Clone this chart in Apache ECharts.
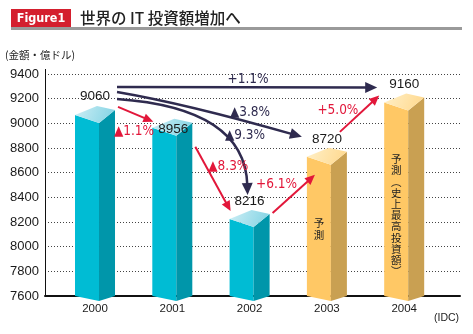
<!DOCTYPE html>
<html><head><meta charset="utf-8">
<script src="https://cdn.jsdelivr.net/npm/echarts@6/dist/echarts.min.js"></script>
<style>html,body{margin:0;padding:0;background:#fff}#c{width:473px;height:334px}</style>
</head><body><div id="c"></div>
<script>
// ---- data ----
const years = ['2000', '2001', '2002', '2003', '2004'];
const values = [9060, 8956, 8216, 8720, 9160];
const forecast = [false, false, false, true, true];
const barNotes = ['', '', '', '予測', '予測︵史上最高投資額︶'];
const yMin = 7600, yMax = 9400, yStep = 200;
const changeFrom = [0, 0, 0, 0, 1, 2, 3];
const changeTo   = [4, 3, 2, 1, 2, 3, 4];
const changeText = ['+1.1%', '▲3.8%', '▲9.3%', '▲1.1%', '▲8.3%', '+6.1%', '+5.0%'];

// ---- styling / layout (pixel offsets relative to data anchors) ----
const RED = '#e2173a', NAVY = '#2f2b4f';
const arrowGeom = [
  {s: [22, -29], e: [-27, -16], l: [131, -7], red: false},
  {s: [22, -24], e: [-25, -21], c: [70, 12], l: [133, 21], red: false},
  {s: [22, -17], e: [-2, -25], c: [128, 9], l: [128, 37], red: false},
  {s: [23, -9], e: [-19, -7], l: [16, 25], red: true},
  {s: [23, 18], e: [-19, -9], l: [33, 20], red: true},
  {s: [23, -7], e: [-12, 17], l: [4, -29], red: true},
  {s: [13, -26], e: [-25, -8], l: [-2, -21], red: true}
];
const lblDx = [0, 1, 0, 0, 0], lblDy = [-20, 1, -19, -19, -19];
const noteDy = [0, 0, 0, 60, 50];
const palette = {
  cyan: {front: '#00bcd4', side: '#0096aa', top0: '#cdeef5', top1: '#7fd2e3'},
  gold: {front: '#ffc865', side: '#c9a052', top0: '#fff0c8', top1: '#ffd78a'}
};
const NUMFONT = '"Liberation Sans", Arial, sans-serif';
const PCTFONT = '"Liberation Sans Narrow", "DejaVu Sans Condensed", "Liberation Sans", sans-serif';
const JPFONT = '"Noto Sans CJK JP", sans-serif';

function barItem(params, api) {
  const i = params.dataIndex;
  const p = api.coord([api.value(0), api.value(1)]);
  const b = api.coord([api.value(0), yMin]);
  const cx = p[0], ty = p[1], by = b[1];
  const c = forecast[i] ? palette.gold : palette.cyan;
  const L = cx - 20, M = cx + 4, R = cx + 20;
  const children = [
    {type: 'polygon', shape: {points: [[L, ty - 1], [M, ty + 7], [M, by + 5], [L, by]]}, style: {fill: c.front}},
    {type: 'polygon', shape: {points: [[M, ty + 7], [R, ty - 6], [R, by], [M, by + 5]]}, style: {fill: c.side}},
    {type: 'polygon', shape: {points: [[L, ty - 1], [cx + 2, ty - 10], [R, ty - 6], [M, ty + 7]]},
      style: {fill: new echarts.graphic.LinearGradient(0, 0, 1, 1, [{offset: 0, color: c.top0}, {offset: 1, color: c.top1}])}},
    {type: 'text', x: cx + lblDx[i], y: ty + lblDy[i], z2: 10,
      style: {text: String(values[i]), fill: '#1a1a1a', fontSize: 13.5, fontFamily: NUMFONT, align: 'center', verticalAlign: 'middle'}},
    {type: 'text', x: cx, y: by + 13,
      style: {text: years[i], fill: '#1a1a1a', fontSize: 11.5, fontFamily: NUMFONT, align: 'center', verticalAlign: 'middle'}}
  ];
  if (barNotes[i]) {
    children.push({type: 'text', x: (L + M) / 2, y: ty + noteDy[i],
      style: {text: barNotes[i].split('').join('\n'), fill: '#222', fontSize: 10.5, fontFamily: JPFONT, lineHeight: 11.2,
        align: 'center', verticalAlign: 'top'}});
  }
  return {type: 'group', children: children};
}

function arrowItem(params, api) {
  const k = params.dataIndex;
  const g = arrowGeom[k];
  const a = api.coord([changeFrom[k], values[changeFrom[k]]]);
  const b = api.coord([changeTo[k], values[changeTo[k]]]);
  const s = [a[0] + g.s[0], a[1] + g.s[1]];
  const e = [b[0] + g.e[0], b[1] + g.e[1]];
  const color = g.red ? RED : NAVY;
  const lw = g.red ? 2 : 2.5;
  const hl = g.red ? 10 : 12, hw = g.red ? 4.5 : 5.5;
  const ref = g.c ? [s[0] + g.c[0], s[1] + g.c[1]] : s;
  let dx = e[0] - ref[0], dy = e[1] - ref[1];
  const len = Math.hypot(dx, dy); dx /= len; dy /= len;
  const base = [e[0] - dx * hl, e[1] - dy * hl];
  const lineEnd = [e[0] - dx * (hl - 2), e[1] - dy * (hl - 2)];
  const line = g.c
    ? {type: 'bezierCurve', shape: {x1: s[0], y1: s[1], x2: lineEnd[0], y2: lineEnd[1], cpx1: ref[0], cpy1: ref[1]}, style: {stroke: color, lineWidth: lw, fill: null}}
    : {type: 'line', shape: {x1: s[0], y1: s[1], x2: lineEnd[0], y2: lineEnd[1]}, style: {stroke: color, lineWidth: lw}};
  const head = {type: 'polygon', shape: {points: [e, [base[0] - dy * hw, base[1] + dx * hw], [base[0] + dy * hw, base[1] - dx * hw]]}, style: {fill: color}};
  const label = {type: 'text', x: s[0] + g.l[0], y: s[1] + g.l[1],
    style: {text: changeText[k], fill: color, fontSize: 13.5, fontFamily: PCTFONT, align: 'center', verticalAlign: 'middle'}};
  return {type: 'group', children: [line, head, label]};
}

const chart = echarts.init(document.getElementById('c'), null, {renderer: 'canvas'});
chart.setOption({
  animation: false,
  backgroundColor: '#fff',
  grid: {left: 45, right: 13, top: 74, bottom: 38},
  xAxis: {
    type: 'value', min: -0.647, max: 4.722,
    axisLine: {onZero: false, lineStyle: {color: '#111', width: 2}},
    axisTick: {show: false}, axisLabel: {show: false}, splitLine: {show: false}
  },
  yAxis: {
    type: 'value', min: yMin, max: yMax, interval: yStep,
    axisLine: {show: true, onZero: false, lineStyle: {color: '#111', width: 1}},
    axisTick: {show: false},
    axisLabel: {color: '#1a1a1a', fontSize: 13, fontFamily: NUMFONT, margin: 6, formatter: v => String(v)},
    splitLine: {show: true, lineStyle: {color: '#444', width: 1, type: [1, 2]}}
  },
  graphic: [
    {type: 'rect', left: 11, top: 9, shape: {width: 60, height: 18}, style: {fill: '#d41f2e'}},
    {type: 'text', x: 41, y: 18.5, style: {text: 'Figure1', fill: '#fff', fontSize: 12.5, fontWeight: 'bold', fontFamily: '"DejaVu Sans Condensed", sans-serif', align: 'center', verticalAlign: 'middle'}},
    {type: 'text', x: 80, y: 18, style: {text: '世界の IT 投資額増加へ', fill: '#222', fontSize: 15.5, fontWeight: 500, fontFamily: JPFONT, verticalAlign: 'middle'}},
    {type: 'rect', left: 11, top: 27, shape: {width: 451, height: 3}, style: {fill: '#9a9a9a'}},
    {type: 'text', x: 5, y: 55, style: {text: '(金額・億ドル)', fill: '#222', fontSize: 10.5, fontFamily: JPFONT, verticalAlign: 'middle'}},
    {type: 'text', x: 434, y: 318, style: {text: '(IDC)', fill: '#222', fontSize: 10.5, fontFamily: NUMFONT, verticalAlign: 'middle'}},
    {type: 'line', shape: {x1: 45.5, y1: 69, x2: 45.5, y2: 74}, style: {stroke: '#111', lineWidth: 1}}
  ],
  series: [
    {type: 'custom', renderItem: barItem, data: values.map((v, i) => [i, v]), z: 3},
    {type: 'custom', renderItem: arrowItem, data: changeFrom.map(f => [f, values[f]]), z: 5}
  ]
});
</script>
</body></html>
